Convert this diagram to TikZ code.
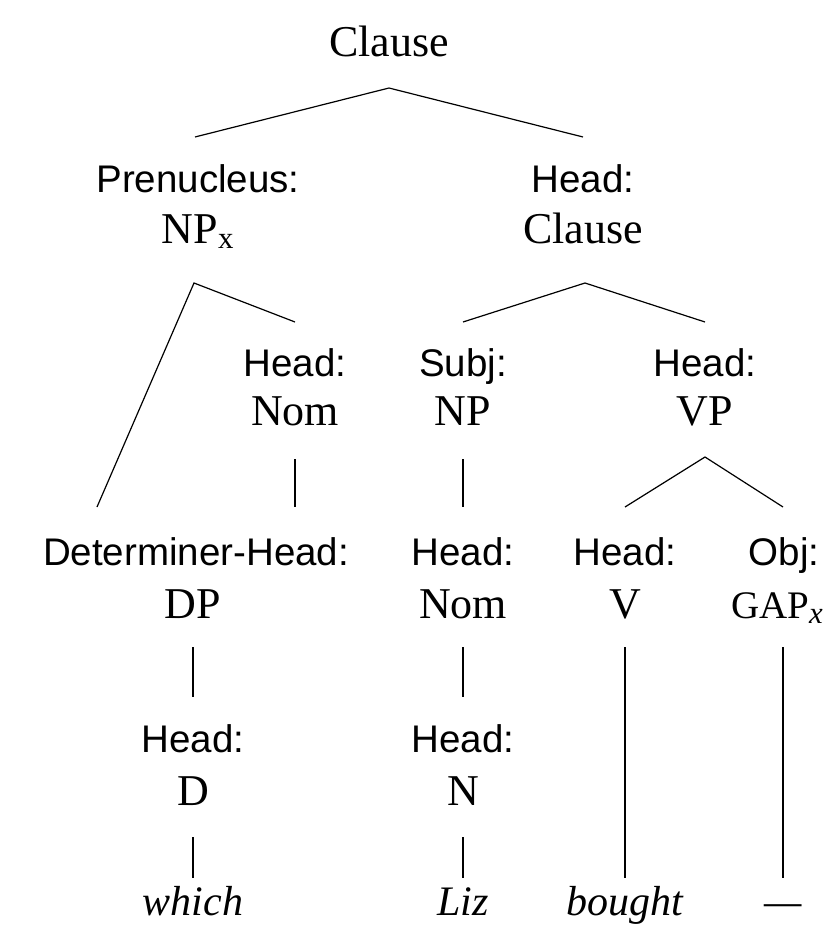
\documentclass[tikz,border=0pt]{standalone}
\usepackage{fontspec}
\setmainfont{Liberation Serif}
\setsansfont{Liberation Sans}
\begin{document}
\begin{tikzpicture}[x=1pt,y=-1pt,
  lab/.style={font=\sffamily\fontsize{38.5}{42}\selectfont, inner sep=0pt, anchor=base},
  cat/.style={font=\fontsize{44}{48}\selectfont, inner sep=0pt, anchor=base},
  word/.style={font=\itshape\fontsize{42}{46}\selectfont, inner sep=0pt, anchor=base},
  edge/.style={line width=1.2pt}]
\useasboundingbox (0,0) rectangle (822,952);
% row 1
\node[cat] (root) at (389,57) {Clause};
% row 2
\node[lab] (prelab) at (198,193) {Prenucleus:};
\node[cat] (npx) at (198,243) {NP\textsubscript{x}};
\node[lab] (hdlab) at (583,193) {Head:};
\node[cat] (hdcl) at (583,243) {Clause};
% row 3
\node[lab] (l31) at (295,376) {Head:};
\node[cat] (c31) at (295,425) {Nom};
\node[lab] (l32) at (463,376) {Subj:};
\node[cat] (c32) at (463,425) {NP};
\node[lab] (l33) at (705,376) {Head:};
\node[cat] (c33) at (705,425) {VP};
% row 4
\node[lab] (l41) at (196,565) {Determiner-Head:};
\node[cat] (c41) at (193,618) {DP};
\node[lab] (l42) at (463,565) {Head:};
\node[cat] (c42) at (463,618) {Nom};
\node[lab] (l43) at (625,565) {Head:};
\node[cat] (c43) at (625,618) {V};
\node[lab] (l44) at (784,565) {Obj:};
\node[cat, anchor=base west] (c44) at (731,618) {{\fontsize{39}{42}\selectfont GAP}\textsubscript{\itshape x}};
% row 5
\node[lab] (l51) at (193,752) {Head:};
\node[cat] (c51) at (193,805) {D};
\node[lab] (l52) at (463,752) {Head:};
\node[cat] (c52) at (463,805) {N};
% words
\node[word] (w1) at (193,915) {which};
\node[word] (w2) at (463,915) {Liz};
\node[word] (w3) at (625,915) {bought};
\node[word] (w4) at (783,915) {---};
% connectors
\draw[edge] ([xshift=-3pt,yshift=56pt]prelab.base) -- ([yshift=-31pt]root.base) -- ([yshift=56pt]hdlab.base);
\draw[edge] ([xshift=-99pt,yshift=58pt]l41.base) -- ([xshift=-4pt,yshift=-40pt]npx.base) -- ([yshift=54pt]l31.base);
\draw[edge] ([yshift=54pt]l32.base) -- ([xshift=2pt,yshift=-40pt]hdcl.base) -- ([yshift=54pt]l33.base);
\draw[edge] ([yshift=-34pt]c31.base) -- ([yshift=-82pt]c31.base);
\draw[edge] ([yshift=-34pt]c32.base) -- ([yshift=58pt]l42.base);
\draw[edge] ([yshift=58pt]l43.base) -- ([yshift=-32pt]c33.base) -- ([xshift=-1pt,yshift=58pt]l44.base);
\draw[edge] ([yshift=-29pt]c41.base) -- ([yshift=55pt]l51.base);
\draw[edge] ([yshift=-29pt]c42.base) -- ([yshift=55pt]l52.base);
\draw[edge] ([yshift=-29pt]c43.base) -- ([yshift=37pt]w3.base);
\draw[edge] ([xshift=-1pt,yshift=-82pt]l44.base) -- ([yshift=37pt]w4.base);
\draw[edge] ([yshift=-32pt]c51.base) -- ([yshift=37pt]w1.base);
\draw[edge] ([yshift=-32pt]c52.base) -- ([yshift=37pt]w2.base);
\end{tikzpicture}
\end{document}
